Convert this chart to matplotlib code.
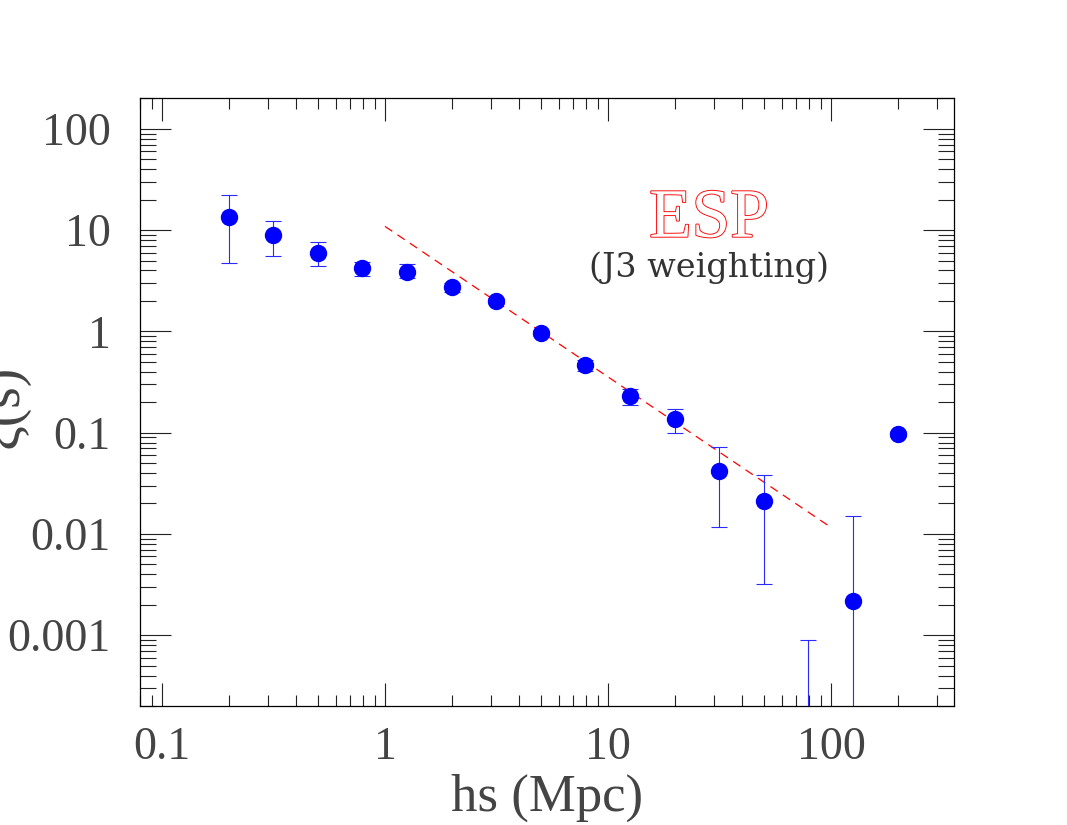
import numpy as np
import matplotlib
matplotlib.use("Agg")
import matplotlib.pyplot as plt
import matplotlib.patheffects as pe
from matplotlib.ticker import LogLocator, FuncFormatter, NullFormatter

# --- data ---
s = [0.2, 0.316, 0.5, 0.79, 1.26, 2.0, 3.16, 5.0, 7.9, 12.6, 20.0, 31.6, 50.0, 79.0, 126.0, 200.0]
xi = [13.6, 8.9, 6.0, 4.2, 3.9, 2.72, 1.99, 0.96, 0.461, 0.233, 0.138, 0.042, 0.021, 1e-5, 0.0022, 0.0966]
xi_lo = [4.7, 5.5, 4.4, 3.5, 3.35, 2.45, 1.85, 0.9, 0.41, 0.186, 0.10, 0.0117, 0.0032, 1e-6, 1e-6, 0.09]
xi_hi = [22.5, 12.2, 7.6, 4.9, 4.6, 3.0, 2.15, 1.03, 0.52, 0.273, 0.173, 0.073, 0.0385, 0.00089, 0.0151, 0.104]

# power-law fit (dashed)
fit_s = [1.0, 100.0]
fit_xi = [10.9, 0.0116]

xticks = [0.1, 1, 10, 100]
yticks = [0.001, 0.01, 0.1, 1, 10, 100]

fig = plt.figure(figsize=(10.67, 8.25), dpi=100)
ax = fig.add_axes([140/1067, 1 - 706/825, 814/1067, 608/825])

yerr = [np.array(xi) - np.array(xi_lo), np.array(xi_hi) - np.array(xi)]
ax.errorbar(s, xi, yerr=yerr, fmt='o', color='blue', ms=11.5, elinewidth=0.8,
            capsize=6, capthick=0.8, ecolor='#2a2aff', zorder=3)
ax.plot(fit_s, fit_xi, color='red', lw=0.9, dashes=(7, 5), zorder=2)

ax.set_xscale('log')
ax.set_yscale('log')
ax.set_xlim(0.0797, 356)
ax.set_ylim(0.0002, 202)

fmt = FuncFormatter(lambda v, p: '%g' % v)
ax.set_xticks(xticks)
ax.set_yticks(yticks)
ax.xaxis.set_major_formatter(fmt)
ax.yaxis.set_major_formatter(fmt)
ax.xaxis.set_minor_locator(LogLocator(base=10, subs=np.arange(2, 10), numticks=20))
ax.yaxis.set_minor_locator(LogLocator(base=10, subs=np.arange(2, 10), numticks=20))
ax.xaxis.set_minor_formatter(NullFormatter())
ax.yaxis.set_minor_formatter(NullFormatter())

ax.tick_params(which='both', direction='in', top=True, right=True, width=0.8, color='#222222')
ax.tick_params(axis='x', which='major', length=16.5, pad=15)
ax.tick_params(axis='x', which='minor', length=8)
ax.tick_params(axis='y', which='major', length=22, pad=21)
ax.tick_params(axis='y', which='minor', length=11.5)
for lab in ax.get_xticklabels() + ax.get_yticklabels():
    lab.set_fontfamily('Liberation Serif')
    lab.set_fontsize(33)
    lab.set_color('#444444')
for sp in ax.spines.values():
    sp.set_linewidth(0.9)

ax.set_xlabel('hs (Mpc)', fontfamily='Liberation Serif', fontsize=38, color='#444444', labelpad=3)
fig.text(0.003, 1 - 406/825, 'ξ(s)', rotation=90, ha='center', va='center',
         fontfamily='Liberation Serif', fontsize=40, color='#444444')

ax.text(709/1067, 1 - 220/825, 'ESP', transform=fig.transFigure, ha='center', va='center',
        fontfamily='Liberation Serif', fontsize=50, color='white',
        path_effects=[pe.withStroke(linewidth=1.3, foreground='red')])
ax.text(709/1067, 1 - 268/825, '(J3 weighting)', transform=fig.transFigure, ha='center', va='center',
        fontfamily='DejaVu Serif', fontsize=24, color='#333333')

fig.savefig('out.png', dpi=100)
